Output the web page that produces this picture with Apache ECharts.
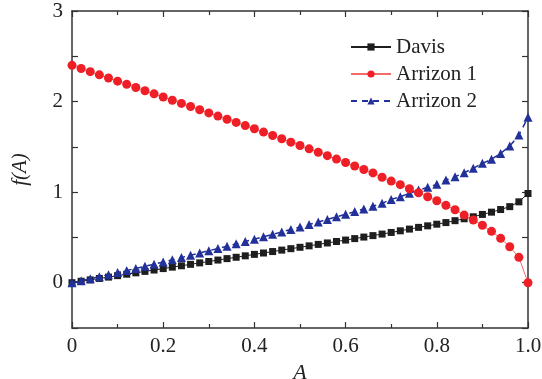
<!DOCTYPE html>
<html>
<head>
<meta charset="utf-8">
<script src="https://cdn.jsdelivr.net/npm/echarts@6/dist/echarts.min.js"></script>
<style>html,body{margin:0;padding:0;background:#fff;}#c{width:542px;height:379px;}</style>
</head>
<body>
<div id="c"></div>
<script>
var A = [0,0.02,0.04,0.06,0.08,0.10,0.12,0.14,0.16,0.18,0.20,0.22,0.24,0.26,0.28,0.30,0.32,0.34,0.36,0.38,0.40,0.42,0.44,0.46,0.48,0.50,0.52,0.54,0.56,0.58,0.60,0.62,0.64,0.66,0.68,0.70,0.72,0.74,0.76,0.78,0.80,0.82,0.84,0.86,0.88,0.90,0.92,0.94,0.96,0.98,1.0];
var davis = [0,0.016,0.031,0.047,0.062,0.078,0.094,0.109,0.125,0.140,0.156,0.172,0.187,0.203,0.219,0.234,0.250,0.266,0.281,0.297,0.313,0.328,0.344,0.360,0.376,0.391,0.407,0.423,0.439,0.455,0.471,0.487,0.504,0.520,0.537,0.555,0.573,0.592,0.611,0.628,0.646,0.664,0.685,0.706,0.728,0.754,0.779,0.808,0.840,0.893,0.985];
var arrizon1 = [2.40,2.365,2.33,2.295,2.26,2.225,2.19,2.155,2.12,2.085,2.05,2.015,1.98,1.945,1.91,1.875,1.84,1.805,1.77,1.735,1.70,1.663,1.626,1.589,1.552,1.515,1.478,1.441,1.403,1.365,1.327,1.289,1.25,1.212,1.165,1.122,1.083,1.038,0.993,0.949,0.905,0.854,0.806,0.747,0.692,0.634,0.567,0.49,0.397,0.28,0.0];
var arrizon2 = [0,0.022,0.044,0.066,0.089,0.112,0.135,0.158,0.181,0.205,0.229,0.253,0.278,0.303,0.328,0.353,0.378,0.403,0.429,0.455,0.481,0.507,0.534,0.561,0.588,0.615,0.643,0.671,0.699,0.727,0.756,0.785,0.815,0.845,0.876,0.92,0.949,0.987,1.023,1.053,1.086,1.134,1.17,1.214,1.263,1.318,1.362,1.428,1.509,1.63,1.826];
var xTicks = ['0','0.2','0.4','0.6','0.8','1.0'];
var yTicks = ['0','1','2','3'];

function pairs(ys){ return A.map(function(x,i){ return [x, ys[i]]; }); }
var serif = 'Liberation Serif';
var axisCol = '#333';
var chart = echarts.init(document.getElementById('c'));
var baseX = {
  type:'value', min:0, max:1, interval:0.2,
  axisLine:{show:true, onZero:false, lineStyle:{color:axisCol, width:1.5}},
  axisTick:{show:true, inside:true, length:6, lineStyle:{color:axisCol, width:1.2}},
  minorTick:{show:true, splitNumber:2, length:4, lineStyle:{color:axisCol, width:1.2}},
  splitLine:{show:false}, minorSplitLine:{show:false}
};
var baseY = {
  type:'value', min:-0.5, max:3, interval:0.5,
  axisLine:{show:true, onZero:false, lineStyle:{color:axisCol, width:1.5}},
  axisTick:{show:true, inside:true, length:6, lineStyle:{color:axisCol, width:1.2}},
  splitLine:{show:false}
};
chart.setOption({
  animation:false,
  grid:{left:72, right:14, top:11, bottom:51, outerBoundsMode:'none', containLabel:false},
  legend:{
    orient:'vertical', left:345, top:31,
    data:['Davis','Arrizon 1','Arrizon 2'],
    itemWidth:40, itemHeight:9, itemGap:5, itemTextGap:9,
    textStyle:{fontFamily:serif, fontSize:21, color:'#222', lineHeight:22}
  },
  xAxis:[
    Object.assign({}, baseX, {
      position:'bottom', name:'A', nameLocation:'middle', nameGap:22,
      nameTextStyle:{fontFamily:serif, fontStyle:'italic', fontSize:22, color:'#222'},
      axisLabel:{show:true, margin:8, fontFamily:serif, fontSize:21, color:'#222',
        formatter:function(v){ var i=Math.round(v/0.2); return Math.abs(v-i*0.2)<1e-6 ? xTicks[i] : ''; }}
    }),
    Object.assign({}, baseX, {position:'top', axisLabel:{show:false}})
  ],
  yAxis:[
    Object.assign({}, baseY, {
      position:'left', name:'f(A)', nameLocation:'middle', nameGap:41,
      nameTextStyle:{fontFamily:serif, fontStyle:'italic', fontSize:21, color:'#222'},
      axisLabel:{show:true, margin:9, fontFamily:serif, fontSize:21, color:'#222',
        formatter:function(v){ var r=Math.round(v); return (Math.abs(v-r)<1e-6 && r>=0) ? yTicks[r] : ''; }}
    }),
    Object.assign({}, baseY, {position:'right', axisLabel:{show:false}})
  ],
  series:[
    {name:'Davis', type:'line', data:pairs(davis), symbol:'rect', symbolSize:7,
     itemStyle:{color:'#1e1e1e'}, lineStyle:{color:'#1e1e1e', width:1}, z:3},
    {name:'Arrizon 2', type:'line', data:pairs(arrizon2), symbol:'triangle', symbolSize:9,
     itemStyle:{color:'#22309a'}, lineStyle:{color:'#22309a', width:1.5, type:[6,5]}, z:4},
    {name:'Arrizon 1', type:'line', data:pairs(arrizon1), symbol:'circle', symbolSize:9,
     itemStyle:{color:'#ee1f26'}, lineStyle:{color:'#f26a6a', width:1}, z:5}
  ]
});
</script>
</body>
</html>
